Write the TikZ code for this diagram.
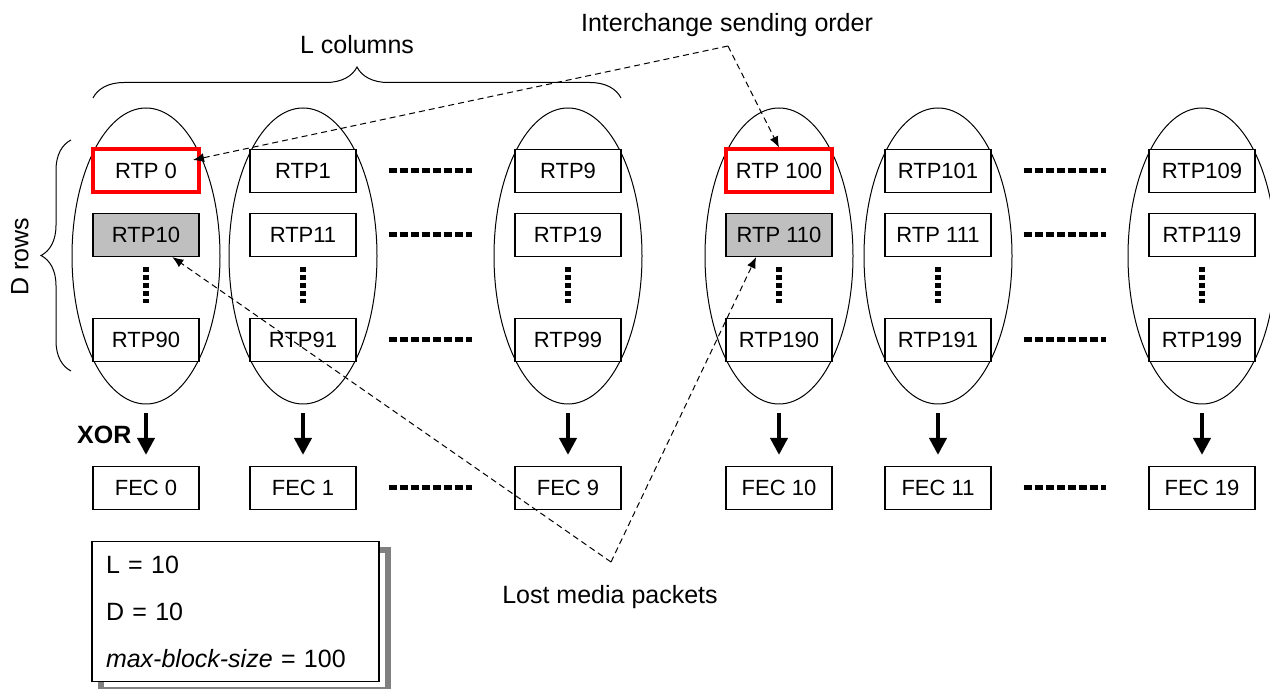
\documentclass[tikz,border=0pt]{standalone}
\usepackage{fontspec}
\setmainfont{Liberation Sans}
\usetikzlibrary{positioning, calc, shapes.geometric, arrows.meta, decorations.pathreplacing}

\begin{document}
\begin{tikzpicture}[x=0.5pt, y=-0.5pt, on grid,
    pkt/.style={draw, fill=white, line width=0.6pt, minimum width=53pt, minimum height=21.5pt, inner sep=0pt, font=\fontsize{11}{13}\selectfont},
    sent/.style={pkt, draw=red, line width=2pt},
    lost/.style={pkt, fill=black!25},
    grp/.style={draw, ellipse, line width=0.5pt, minimum width=74pt, minimum height=148pt, inner sep=0pt},
    xorarrow/.style={line width=2pt, -{Triangle[width=8.5pt,length=8.5pt]}, shorten <=4.5pt, shorten >=5.5pt},
    hdots/.style={line width=2.5pt, dash pattern=on 4pt off 1.5pt, shorten <=16pt, shorten >=21pt},
    vdots/.style={line width=3pt, dash pattern=on 2.5pt off 1.5pt, shorten <=5pt, shorten >=7.5pt},
    hint/.style={line width=0.5pt, dash pattern=on 3pt off 2pt, -{Latex[length=5.5pt,width=4.5pt]}},
    lbl/.style={font=\fontsize{12.5}{15}\selectfont}
  ]
    \useasboundingbox (0,0) rectangle (1270,689);

      % one ellipse per column
      \foreach \c/\x in {0/146, 1/303, 9/568, 10/779, 11/938, 19/1202}
        \node[grp] (grp\c) at (\x,256) {};

      % packets, column by column
      \node[sent] (rtp0)   at (146,171)          {RTP 0};
      \node[lost] (rtp10)  [below=32pt of rtp0]  {RTP10};
      \node[pkt]  (rtp90)  [below=52.5pt of rtp10] {RTP90};
      \node[pkt]  (fec0)   [below=74pt of rtp90] {FEC 0};

      \node[pkt]  (rtp1)   at (303,171)          {RTP1};
      \node[pkt]  (rtp11)  [below=32pt of rtp1]  {RTP11};
      \node[pkt]  (rtp91)  [below=52.5pt of rtp11] {RTP91};
      \node[pkt]  (fec1)   [below=74pt of rtp91] {FEC 1};

      \node[pkt]  (rtp9)   at (568,171)          {RTP9};
      \node[pkt]  (rtp19)  [below=32pt of rtp9]  {RTP19};
      \node[pkt]  (rtp99)  [below=52.5pt of rtp19] {RTP99};
      \node[pkt]  (fec9)   [below=74pt of rtp99] {FEC 9};

      \node[sent] (rtp100) at (779,171)            {RTP 100};
      \node[lost] (rtp110) [below=32pt of rtp100]  {RTP 110};
      \node[pkt]  (rtp190) [below=52.5pt of rtp110] {RTP190};
      \node[pkt]  (fec10)  [below=74pt of rtp190]  {FEC 10};

      \node[pkt]  (rtp101) at (938,171)            {RTP101};
      \node[pkt]  (rtp111) [below=32pt of rtp101]  {RTP 111};
      \node[pkt]  (rtp191) [below=52.5pt of rtp111] {RTP191};
      \node[pkt]  (fec11)  [below=74pt of rtp191]  {FEC 11};

      \node[pkt]  (rtp109) at (1202,171)           {RTP109};
      \node[pkt]  (rtp119) [below=32pt of rtp109]  {RTP119};
      \node[pkt]  (rtp199) [below=52.5pt of rtp119] {RTP199};
      \node[pkt]  (fec19)  [below=74pt of rtp199]  {FEC 19};

      % dots
      \foreach \a/\b in {rtp1/rtp9, rtp11/rtp19, rtp91/rtp99, fec1/fec9, rtp101/rtp109, rtp111/rtp119, rtp191/rtp199, fec11/fec19}
        \draw[hdots] (\a) -- (\b);
      \foreach \a/\b in {rtp10/rtp90, rtp11/rtp91, rtp19/rtp99, rtp110/rtp190, rtp111/rtp191, rtp119/rtp199}
        \draw[vdots] (\a) -- (\b);

      % XOR
      \draw[xorarrow] (grp0) -- node[left=3pt, font=\fontsize{12.5}{15}\selectfont\bfseries] (xor) {XOR} (fec0);
      \foreach \c in {1, 9, 10, 11, 19}
        \draw[xorarrow] (grp\c) -- (fec\c);

      % braces
      \draw[decorate, decoration={brace, amplitude=15.5pt}, line width=0.5pt] (93,98) -- (621,98);
      \node[lbl] (lcols) at (357,45) {L columns};
      \draw[decorate, decoration={brace, amplitude=15pt}, line width=0.5pt] (71,371) -- (71,140);
      \node[lbl, rotate=90] (drows) at (20,257) {D rows};

      % legend
      \draw[black!50, line width=3pt] (101,550) rectangle (388,690);
      \node[draw, fill=white, line width=0.6pt, align=left, text width=129.5pt, minimum height=69.5pt, inner sep=7pt,
            font=\fontsize{12.5}{23.5}\selectfont] (legend) at (235.5,611.5)
            {L = 10\\D = 10\\\textit{max-block-size} = 100};

      % hints
      \coordinate (swapv) at (728,46);
      \node[lbl] (swap) at (727,25) {Interchange sending order};
      \draw[hint] (swapv) -- (rtp100.north);
      \draw[hint] (swapv) -- ($(rtp0.east)+(-8,-11)$);

      \coordinate (lostv) at (611,562);
      \node[lbl] (lostlbl) at (610,597) {Lost media packets};
      \draw[hint] (lostv) -- (rtp10.-40);
      \draw[hint] (lostv) -- (rtp110.-136);
    \end{tikzpicture}
\end{document}
